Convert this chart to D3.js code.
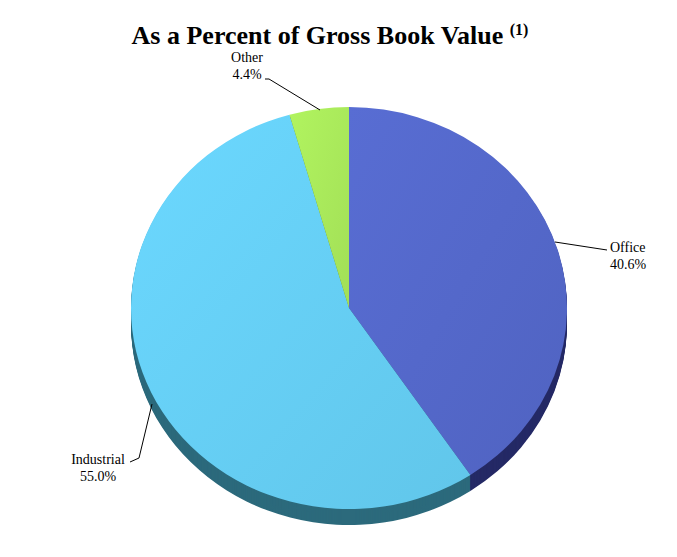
<!DOCTYPE html>
<html><head><meta charset="utf-8">
<script src="https://cdn.jsdelivr.net/npm/d3@7"></script>
<style>body{margin:0;background:#fff}</style></head>
<body><div id="chart"></div>
<script>
// --------------- Data ---------------
const CATEGORIES = ["Office", "Industrial", "Other"];
const VALUES = [40.6, 55.0, 4.4];
const LABELS = ["40.6%", "55.0%", "4.4%"];
const TOP_COLORS = ["#5367c8", "#65cdf2", "#a8e75a"];
const SIDE_COLORS = ["#252a66", "#2c6a7c", "#5c8a30"];

// --------------- Layout ---------------
const W = 677, H = 557;
const CX = 349, CY = 308, RX = 218, RY = 201, DEPTH = 16;

const svg = d3.select("#chart").append("svg").attr("width", W).attr("height", H);

const pie = d3.pie().sort(null).value((d) => d.value);
const arcs = pie(CATEGORIES.map((c, i) => ({ name: c, value: VALUES[i], i })));
const arc = d3.arc().innerRadius(0).outerRadius(RX);

// side (extruded) layers
for (let k = DEPTH; k > 0; k--) {
  svg.append("g")
    .attr("transform", `translate(${CX},${CY + k}) scale(1,${RY / RX})`)
    .selectAll("path").data(arcs).join("path")
    .attr("d", arc)
    .attr("fill", (d) => SIDE_COLORS[d.data.i]);
}

// top face
const defs = svg.append("defs");
TOP_COLORS.forEach((c, i) => {
  const g = defs.append("linearGradient").attr("id", "g" + i)
    .attr("x1", "0").attr("y1", "0").attr("x2", "1").attr("y2", "1");
  g.append("stop").attr("offset", "0%").attr("stop-color", d3.color(c).brighter(0.15));
  g.append("stop").attr("offset", "100%").attr("stop-color", d3.color(c).darker(0.1));
});
svg.append("g")
  .attr("transform", `translate(${CX},${CY}) scale(1,${RY / RX})`)
  .selectAll("path").data(arcs).join("path")
  .attr("d", arc)
  .attr("fill", (d) => `url(#g${d.data.i})`);

// --------------- Title ---------------
const title = svg.append("text").attr("x", 330).attr("y", 44)
  .attr("text-anchor", "middle")
  .attr("font-family", "Liberation Serif, serif")
  .attr("font-weight", "bold").attr("font-size", 26).attr("fill", "#000");
title.append("tspan").text("As a Percent of Gross Book Value ");
title.append("tspan").attr("font-size", 16).attr("dy", -9).text("(1)");

// --------------- Labels with leader lines ---------------
const labelSpec = [
  { x: 610, y: 252, anchor: "start", line: [[555, 242], [607, 250]] },
  { x: 98, y: 464, anchor: "middle", line: [[130, 462], [139, 458], [152, 404]] },
  { x: 247, y: 62, anchor: "middle", line: [[265, 79], [269, 79], [320, 110]] },
];
labelSpec.forEach((s, i) => {
  svg.append("path").attr("d", d3.line()(s.line))
    .attr("fill", "none").attr("stroke", "#000").attr("stroke-width", 1);
  const t = svg.append("text").attr("x", s.x).attr("y", s.y)
    .attr("text-anchor", s.anchor)
    .attr("font-family", "Liberation Serif, serif").attr("font-size", 14);
  t.append("tspan").attr("x", s.x).text(CATEGORIES[i]);
  t.append("tspan").attr("x", s.x).attr("dy", 17).text(LABELS[i]);
});
</script></body></html>
